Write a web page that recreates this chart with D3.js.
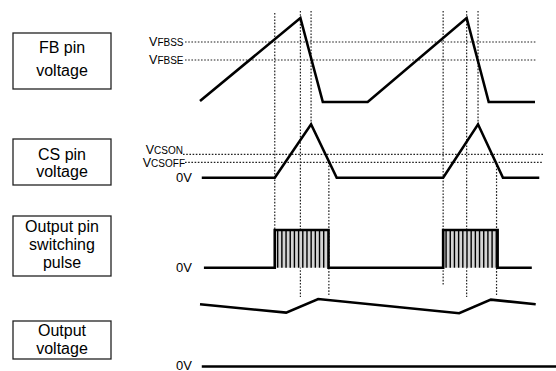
<!DOCTYPE html>
<html><head><meta charset="utf-8">
<script src="https://cdn.jsdelivr.net/npm/d3@7"></script>
<style>html,body{margin:0;padding:0;background:#fff;}svg{display:block;}</style>
</head><body>
<svg id="c" width="556" height="371"></svg>
<script>
// ---- data (time in normalized units 0..100, levels normalized 0..1) ----
const panelNames = [["FB pin","voltage"],["CS pin","voltage"],["Output pin","switching","pulse"],["Output","voltage"]];
const fbPoints = [[0,0.012],[28.2,1],[34.5,0],[47.1,0],[74.9,1],[81.1,0],[94.1,0]];
const fbLevels = [{main:"V",sub:"FBSS",v:0.714},{main:"V",sub:"FBSE",v:0.5}];
const csPoints = [[0.5,0],[21,0],[31.2,1],[38.4,0],[68.3,0],[78.1,1],[85.1,0],[95.3,0]];
const csLevels = [{main:"V",sub:"CSON",v:0.438},{main:"V",sub:"CSOFF",v:0.288}];
const pulsePoints = [[1.1,0],[21,0],[21,1],[36.1,1],[36.1,0],[68.3,0],[68.3,1],[83.6,1],[83.6,0],[93.2,0]];
const pulseOn = [[21,36.1],[68.3,83.6]];
const switchPeriod = 1.175;
const outPoints = [[0,0.922],[24.2,0.798],[33.2,1],[72.8,0.789],[81.7,0.99],[94.3,0.922]];
const outZero = [[0.5,0],[100,0]];
const zeroLabels = ["0V","0V","0V"];
// vertical marker lines: time, from / to reference heights
const markers = [
  {t:21,   top:"topA", bot:"pulseLow"},
  {t:28.2, top:"top",  bot:"outMark"},
  {t:31.2, top:"top",  bot:"csPeak"},
  {t:36.2, top:"csOff", bot:"outMark2"},
  {t:68.3, top:"top",  bot:"outMark3"},
  {t:74.9, top:"top",  bot:"outMark"},
  {t:78.1, top:"top",  bot:"csPeak"},
  {t:83.3, top:"csOff", bot:"outMark2"}
];

const svg = d3.select("#c");
const x = d3.scaleLinear().domain([0,100]).range([200,556]);
const yFB = d3.scaleLinear().domain([0,1]).range([102,18]);
const yCS = d3.scaleLinear().domain([0,1]).range([177.7,124.3]);
const yP  = d3.scaleLinear().domain([0,1]).range([267.7,230]);
const yO  = d3.scaleLinear().domain([0,1]).range([366.5,299]);
const font = "Arial, 'Liberation Sans', sans-serif";

const yRef = {
  top: 11, topA: 13, csPeak: yCS(1), csOff: yCS(0.288), pulseLow: yP(0),
  outMark: 297, outMark2: 295, outMark3: 286
};

// ---- label boxes ----
const boxes = [
  {y0:33, y1:89, base:[52.5,76]},
  {y0:139, y1:185, base:[159.5,176.5]},
  {y0:216, y1:276, base:[231.5,249.5,267.5]},
  {y0:321, y1:359, base:[335.5,353.5]}
];
boxes.forEach((b,i)=>{
  svg.append("rect").attr("x",13).attr("y",b.y0).attr("width",98).attr("height",b.y1-b.y0)
    .attr("fill","none").attr("stroke","#222").attr("stroke-width",1.3);
  panelNames[i].forEach((s,j)=>{
    svg.append("text").attr("x",62).attr("y",b.base[j]).attr("text-anchor","middle")
      .attr("font-family",font).attr("font-size",16).attr("fill","#000").text(s);
  });
});

// ---- dotted reference lines ----
const dot = g => g.attr("stroke","#222").attr("stroke-width",1.2).attr("stroke-dasharray","1.6,1.6").attr("fill","none");
function label(l, lx, ly){
  const t = svg.append("text").attr("x",lx).attr("y",ly).attr("text-anchor","end")
    .attr("font-family",font).attr("fill","#000");
  t.append("tspan").attr("font-size",12.5).text(l.main);
  t.append("tspan").attr("font-size",10).text(l.sub);
}
fbLevels.forEach(l=>{
  svg.append("line").attr("x1",185).attr("x2",537).attr("y1",yFB(l.v)).attr("y2",yFB(l.v)).call(dot);
  label(l, 183.5, yFB(l.v)+4);
});
svg.append("line").attr("x1",183).attr("x2",543).attr("y1",yCS(csLevels[0].v)).attr("y2",yCS(csLevels[0].v)).call(dot);
svg.append("line").attr("x1",185).attr("x2",543).attr("y1",yCS(csLevels[1].v)).attr("y2",yCS(csLevels[1].v)).call(dot);
label(csLevels[0], 183, yCS(csLevels[0].v)-0.5);
label(csLevels[1], 185, yCS(csLevels[1].v)+4.2);

markers.forEach(m=>{
  svg.append("line").attr("x1",x(m.t)).attr("x2",x(m.t)).attr("y1",yRef[m.top]).attr("y2",yRef[m.bot]).call(dot);
});

// ---- pulse fill + stripes ----
pulseOn.forEach(([a,b])=>{
  svg.append("rect").attr("x",x(a)).attr("y",yP(1)).attr("width",x(b)-x(a)).attr("height",yP(0)-yP(1))
    .attr("fill","#d4d4d4");
  d3.range(a+switchPeriod*0.7, b-0.3, switchPeriod).forEach(t=>{
    svg.append("line").attr("x1",x(t)).attr("x2",x(t)).attr("y1",yP(1)).attr("y2",yP(0))
      .attr("stroke","#000").attr("stroke-width",1.4);
  });
});

// ---- waveforms ----
const line = (yS)=>d3.line().x(d=>x(d[0])).y(d=>yS(d[1]));
const solid = p => p.attr("fill","none").attr("stroke","#000").attr("stroke-width",2.6).attr("stroke-linejoin","miter");
svg.append("path").attr("d",line(yFB)(fbPoints)).call(solid);
svg.append("path").attr("d",line(yCS)(csPoints)).call(solid);
svg.append("path").attr("d",line(yP)(pulsePoints)).call(solid);
svg.append("path").attr("d",line(yO)(outPoints)).call(solid);
svg.append("path").attr("d",line(yO)(outZero)).call(solid);

// ---- 0V labels ----
[yCS(0), yP(0), yO(0)-1.5].forEach((yy,i)=>{
  svg.append("text").attr("x",192).attr("y",yy).attr("dominant-baseline","central").attr("text-anchor","end")
    .attr("font-family",font).attr("font-size",13).attr("fill","#000").text(zeroLabels[i]);
});
</script>
</body></html>
